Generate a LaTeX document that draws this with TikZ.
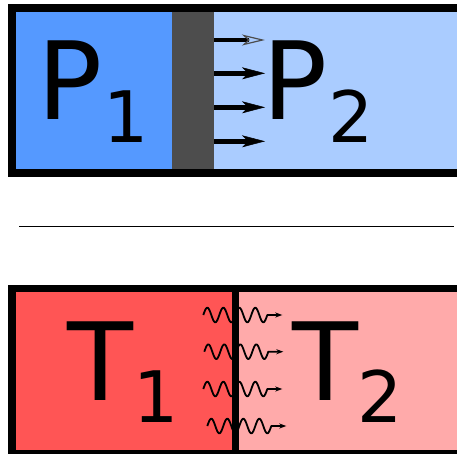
\documentclass[tikz,border=0pt]{standalone}
\usepackage{fontspec}
\setmainfont{DejaVu Sans}
\usetikzlibrary{arrows.meta}
\definecolor{bluedark}{HTML}{5599FF}
\definecolor{bluelight}{HTML}{AACCFF}
\definecolor{pistongray}{HTML}{4D4D4D}
\definecolor{reddark}{HTML}{FF5555}
\definecolor{redlight}{HTML}{FFAAAA}
\tikzset{
  big/.style={inner sep=0pt, anchor=base west, font=\fontsize{108}{108}\selectfont},
  small/.style={inner sep=0pt, anchor=base west, font=\fontsize{71}{71}\selectfont},
  frame/.style={draw=black, line width=8pt, fill=none},
  pusharrow/.style={line width=4.5pt, -{Stealth[length=23pt, width=12pt, inset=6pt, line width=0.5pt]}},
  hollowarrow/.style={line width=4.5pt, -{Stealth[open, length=23pt, width=11pt, inset=6pt, line width=1.2pt, color=black!70]}},
  wave/.style={line width=1.8pt, line join=round, -{Stealth[length=7pt, width=5pt]}},
}
\begin{document}
\begin{tikzpicture}[x=1pt, y=-1pt]
\clip (0,0) rectangle (457,453);
\fill[white] (0,0) rectangle (457,453);
% ---------- top: pressure ----------
\fill[bluedark] (12,8) rectangle (172,172.5);
\fill[bluelight] (214,8) rectangle (475,172.5);
\fill[pistongray] (172,8) rectangle (214,172.5);
\draw[frame] (12,8) rectangle (475,172.5);
\foreach \ay/\n in {73.3/b, 107.3/c, 141.3/d} {
  \coordinate (s\n) at (214,\ay);
  \coordinate (e\n) at (265,\ay);
  \draw[pusharrow] (s\n) -- (e\n);
}
\coordinate (sa) at (214,40);
\coordinate (ea) at (265,40);
\draw[hollowarrow] (sa) -- (ea);
\node[big] (p1) at (37.4,119) {P};
\node[small] (p1s) at (103.2,142) {1};
\node[big] (p2) at (262.4,119) {P};
\node[small] (p2s) at (327.8,142) {2};
% ---------- separator ----------
\coordinate (l1) at (19,226.7);
\coordinate (l2) at (454,226.7);
\draw[line width=1.4pt] (l1) -- (l2);
% ---------- bottom: temperature ----------
\fill[reddark] (12,288.5) rectangle (235.3,454);
\fill[redlight] (235.3,288.5) rectangle (475,454);
\foreach \wy/\ws/\n in {315/203.3/a, 351.7/204.3/b, 389/203.3/c, 426/207.3/d} {
  \coordinate (w\n) at ({\ws+79},\wy);
  \draw[wave] plot[domain=0:64, samples=140, smooth] ({\ws+\x}, {\wy - 7.3*sin(\x*22.5)}) -- (w\n);
}
\coordinate (dtop) at (235.3,288.5);
\coordinate (dbot) at (235.3,454);
\draw[line width=7.3pt] (dtop) -- (dbot);
\draw[frame, line width=7.6pt] (12,288.5) rectangle (475,454);
\node[big] (t1) at (67,400) {T};
\node[small] (t1s) at (133.2,422) {1};
\node[big] (t2) at (292,400) {T};
\node[small] (t2s) at (356.8,422) {2};
\end{tikzpicture}
\end{document}
